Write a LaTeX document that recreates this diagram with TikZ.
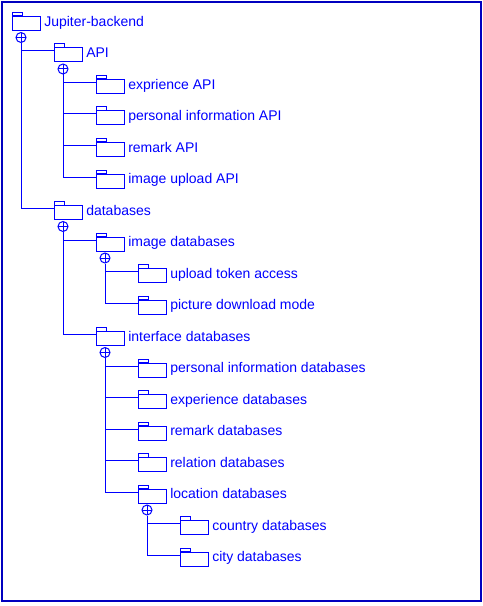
\documentclass[tikz,border=0pt]{standalone}
\usepackage{fontspec}
\setmainfont{Liberation Sans}
\usetikzlibrary{calc}
\begin{document}
\begin{tikzpicture}[x=0.75pt,y=-0.75pt,
  folder/.style={draw=blue,line width=0.75pt,rectangle,minimum width=21pt,minimum height=10.5pt,inner sep=0pt,anchor=north west},
  lbl/.style={text=blue,font=\fontsize{10.5pt}{12pt}\selectfont,inner sep=0pt,anchor=base west},
  expander/.style={draw=blue,line width=0.75pt,circle,minimum size=7.5pt,inner sep=0pt,anchor=north,
    path picture={\draw[blue,line width=0.75pt] (path picture bounding box.west) -- (path picture bounding box.east) (path picture bounding box.north) -- (path picture bounding box.south);}},
  conn/.style={draw=blue,line width=0.75pt}]
\useasboundingbox (0,0) rectangle (482,606);
\draw[draw=blue!75!black, line width=1.1pt] (2,2) rectangle (481,601);
\foreach \i/\l/\t in {0/0/Jupiter-backend, 1/1/API, 2/2/exprience API, 3/2/personal information API, 4/2/remark API, 5/2/image upload API, 6/1/databases, 7/2/image databases, 8/3/upload token access, 9/3/picture download mode, 10/2/interface databases, 11/3/personal information databases, 12/3/experience databases, 13/3/remark databases, 14/3/relation databases, 15/3/location databases, 16/4/country databases, 17/4/city databases} {
  \pgfmathsetmacro\xx{12+42*\l}
  \pgfmathsetmacro\yy{16+31.5*\i}
  \node[folder] (f\i) at (\xx,\yy) {};
  \draw[conn] (f\i.north west) rectangle ++(10,-3.5);
  \node[lbl] (t\i) at (\xx+32,\yy+10.3) {\t};
  \coordinate (a\i) at ($(f\i.north west)+(0,3.5)$);
}
\foreach \i in {0,1,6,7,10,15} {
  \node[expander] (c\i) at ($(f\i.south west)+(9,1)$) {};
}
\draw[conn] (c0.south) |- (a1) (c0.south) |- (a6);
\draw[conn] (c1.south) |- (a2) (c1.south) |- (a3) (c1.south) |- (a4) (c1.south) |- (a5);
\draw[conn] (c6.south) |- (a7) (c6.south) |- (a10);
\draw[conn] (c7.south) |- (a8) (c7.south) |- (a9);
\draw[conn] (c10.south) |- (a11) (c10.south) |- (a12) (c10.south) |- (a13) (c10.south) |- (a14) (c10.south) |- (a15);
\draw[conn] (c15.south) |- (a16) (c15.south) |- (a17);
\end{tikzpicture}
\end{document}
